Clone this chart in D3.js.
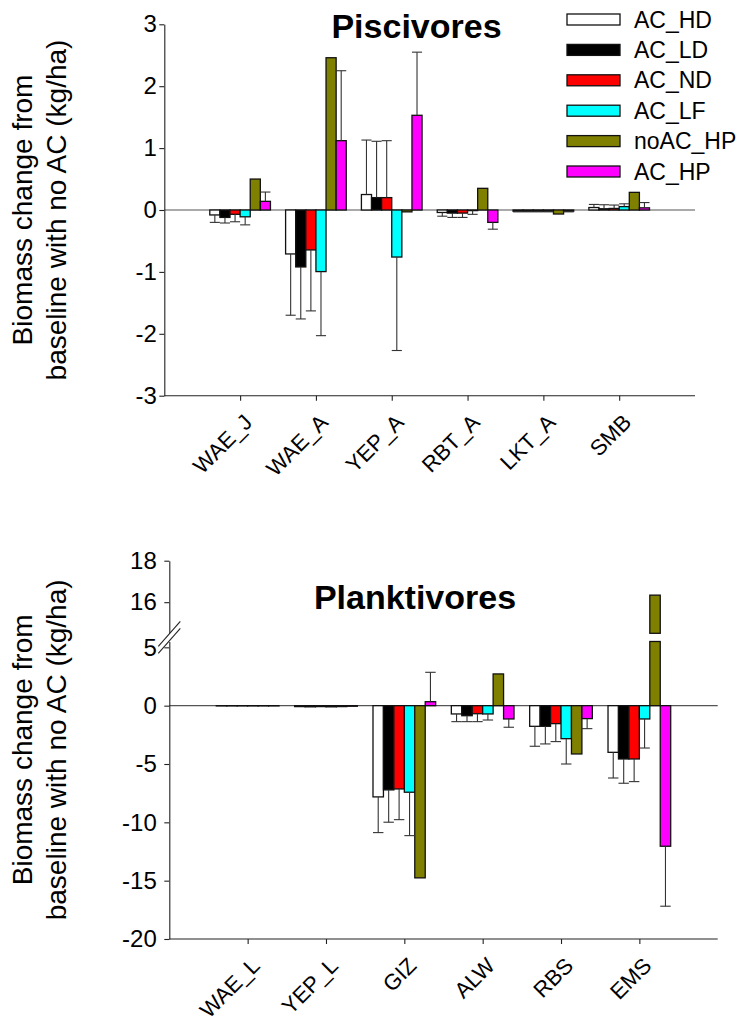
<!DOCTYPE html>
<html>
<head>
<meta charset="utf-8">
<script src="https://cdn.jsdelivr.net/npm/d3@7"></script>
<style>
  body { margin: 0; background: #fff; }
  svg text { font-family: Arial, "Liberation Sans", Helvetica, sans-serif; fill: #000; }
</style>
</head>
<body>
<svg id="chart" width="741" height="1024"></svg>
<script>
// Scenario series shared by both panels
const seriesNames  = ["AC_HD", "AC_LD", "AC_ND", "AC_LF", "noAC_HP", "AC_HP"];
const seriesColors = ["#ffffff", "#000000", "#ff0000", "#00ffff", "#808000", "#ff00ff"];

// Piscivores: biomass change (kg/ha), one row per series, one column per group
const pisciCategories = ["WAE_J", "WAE_A", "YEP_A", "RBT_A", "LKT_A", "SMB"];
const pisciValues = [
  [-0.08, -0.71,  0.25, -0.04, -0.02, 0.04 ],
  [-0.12, -0.92,  0.20, -0.05, -0.02, 0.02 ],
  [-0.07, -0.645, 0.20, -0.05, -0.02, 0.025],
  [-0.11, -0.995,-0.76, -0.01, -0.02, 0.055],
  [ 0.50,  2.46, -0.03,  0.35, -0.065,0.285],
  [ 0.14,  1.12,  1.53, -0.20, -0.02, 0.035]
];
const pisciErrors = [
  [0.12, 0.99,  0.88, 0.06, 0.01, 0.05 ],
  [0.09, 0.84,  0.91, 0.07, 0.01, 0.065],
  [0.12, 0.985, 0.92, 0.07, 0.01, 0.055],
  [0.13, 1.035, 1.51, 0.06, 0.01, 0.045],
  [null, null,  null, null, null, null ],
  [0.15, 1.13,  1.02, 0.11, 0.01, 0.085]
];
const pisciTicks = [-3, -2, -1, 0, 1, 2, 3];

// Planktivores: biomass change (kg/ha)
const plankCategories = ["WAE_L", "YEP_L", "GIZ", "ALW", "RBS", "EMS"];
const plankValues = [
  [-0.02, -0.08, -7.82, -0.71, -1.77, -4.00],
  [-0.02, -0.10, -7.22, -0.86, -1.77, -4.57],
  [-0.02, -0.08, -7.14, -0.69, -1.54, -4.57],
  [-0.02, -0.10, -7.42, -0.71, -2.83, -1.14],
  [-0.02, -0.08,-14.76,  2.72, -4.14, 16.34],
  [-0.02, -0.05,  0.34, -1.14, -1.11,-12.05]
];
const plankErrors = [
  [null, null, 3.06, 0.66, 1.71, 2.20],
  [null, null, 2.77, 0.51, 1.51, 2.08],
  [null, null, 2.63, 0.68, 1.54, 1.94],
  [null, null, 3.72, 0.52, 2.17, 2.49],
  [null, null, null, null, null, null],
  [null, null, 2.52, 0.71, 0.86, 5.14]
];
const plankLowerTicks = [-20, -15, -10, -5, 0, 5];
const plankUpperTicks = [16, 18];

const yTitleLines = ["Biomass change from", "baseline with no AC (kg/ha)"];

const svg = d3.select("#chart");
const AXIS = "#222";
const TICK_SIZE = 24;
const LEGEND_SIZE = 23;
const CAT_SIZE = 22;

function styleAxis(sel, size) {
  sel.attr("font-size", null).attr("font-family", null);
  sel.selectAll("path.domain").attr("stroke", AXIS).attr("stroke-width", 1.1);
  sel.selectAll(".tick line").attr("stroke", AXIS).attr("stroke-width", 1.1);
  sel.selectAll(".tick text").style("font-size", size + "px").attr("fill", "#000");
}

// One bar-chart panel. `segments` lists y scales (bottom to top) for broken axes.
function drawPanel(cfg) {
  const g = svg.append("g");
  const x = d3.scaleLinear().domain([-1, 6]).range([cfg.left, cfg.right]);
  const step = x(1) - x(0);
  const inner = d3.scaleBand().domain(d3.range(seriesNames.length))
    .range([-step * 0.4, step * 0.4]);
  const yBase = cfg.segments[0].scale;

  // zero reference line
  g.append("line")
    .attr("x1", cfg.left).attr("x2", cfg.right)
    .attr("y1", yBase(0)).attr("y2", yBase(0))
    .attr("stroke", "#555").attr("stroke-width", 1.2);

  // bars (a separate rect per axis segment the value reaches)
  const bars = [];
  cfg.values.forEach((row, s) => row.forEach((v, c) => bars.push({ s, c, v, e: cfg.errors[s][c] })));

  cfg.segments.forEach((seg, k) => {
    const y = seg.scale;
    const [lo, hi] = y.domain();
    const parts = bars.filter(d => k === 0 ? true : d.v > lo);
    const base = k === 0 ? 0 : lo;
    g.append("g").selectAll("rect").data(parts).join("rect")
      .attr("x", d => x(d.c) + inner(d.s))
      .attr("width", inner.bandwidth())
      .attr("y", d => Math.min(y(base), y(Math.min(d.v, hi))))
      .attr("height", d => Math.abs(y(base) - y(Math.min(d.v, hi))))
      .attr("fill", d => seriesColors[d.s])
      .attr("stroke", "#111").attr("stroke-width", 1.3);
  });

  // one-sided error bars, pointing away from zero
  const withErr = bars.filter(d => d.e != null);
  const eg = g.append("g").attr("stroke", "#333").attr("stroke-width", 1.1);
  const cx = d => x(d.c) + inner(d.s) + inner.bandwidth() / 2;
  const tip = d => yBase(d.v + Math.sign(d.v || 1) * d.e);
  eg.selectAll("line.stem").data(withErr).join("line").attr("class", "stem")
    .attr("x1", cx).attr("x2", cx)
    .attr("y1", d => yBase(d.v)).attr("y2", tip);
  eg.selectAll("line.cap").data(withErr).join("line").attr("class", "cap")
    .attr("x1", d => cx(d) - inner.bandwidth() / 2)
    .attr("x2", d => cx(d) + inner.bandwidth() / 2)
    .attr("y1", tip).attr("y2", tip);

  // left axis, one piece per segment
  cfg.segments.forEach(seg => {
    const ax = g.append("g").attr("transform", `translate(${cfg.left},0)`)
      .call(d3.axisLeft(seg.scale).tickValues(seg.ticks).tickFormat(d => String(d))
        .tickSize(5).tickSizeOuter(0).tickPadding(cfg.tickPad));
    styleAxis(ax, TICK_SIZE);
  });

  // bottom axis with rotated category labels
  const bottomY = yBase.range()[0];
  const bx = g.append("g").attr("transform", `translate(0,${bottomY})`)
    .call(d3.axisBottom(x).tickValues(d3.range(cfg.categories.length))
      .tickFormat(i => cfg.categories[i]).tickSize(5).tickSizeOuter(0));
  bx.select("path.domain").attr("d", `M${cfg.left},0H${cfg.right}`);
  styleAxis(bx, CAT_SIZE);
  bx.selectAll(".tick text")
    .attr("text-anchor", "end")
    .attr("dy", null).attr("y", null)
    .attr("transform", "translate(13,28) rotate(-45)");

  // axis title
  const midY = (yBase.range()[0] + cfg.segments[cfg.segments.length - 1].scale.range()[1]) / 2;
  const t = g.append("text")
    .attr("transform", `translate(${cfg.titleX},${midY}) rotate(-90)`)
    .attr("text-anchor", "middle").style("font-size", "28px");
  yTitleLines.forEach((line, i) => {
    t.append("tspan").attr("x", 0).attr("dy", i === 0 ? 0 : "1.22em").text(line);
  });

  // panel heading
  g.append("text").attr("x", cfg.heading.x).attr("y", cfg.heading.y)
    .attr("text-anchor", "middle").style("font-size", "34px").style("font-weight", "bold")
    .text(cfg.heading.text);

  return g;
}

// Piscivores panel
const yPisci = d3.scaleLinear().domain([-3, 3]).range([395.7, 24.3]);
drawPanel({
  categories: pisciCategories, values: pisciValues, errors: pisciErrors,
  left: 164.3, right: 695, tickPad: 2.5, titleX: 32,
  segments: [{ scale: yPisci, ticks: pisciTicks }],
  heading: { text: "Piscivores", x: 416.5, y: 37.5 }
});

// legend
const legend = svg.append("g").attr("transform", "translate(567,19.5)");
seriesNames.forEach((name, i) => {
  const row = legend.append("g").attr("transform", `translate(0,${i * 30.4})`);
  row.append("rect").attr("x", 0).attr("y", -5.5).attr("width", 53).attr("height", 11)
    .attr("fill", seriesColors[i]).attr("stroke", "#111").attr("stroke-width", 1.3);
  row.append("text").attr("x", 67).attr("y", 8).style("font-size", LEGEND_SIZE + "px").text(name);
});

// Planktivores panel with a broken y axis
const yPlankLow = d3.scaleLinear().domain([-20, 5.5]).range([939, 641.5]).clamp(true);
const yPlankHigh = d3.scaleLinear().domain([14.5, 18]).range([633.3, 560.7]);
drawPanel({
  categories: plankCategories, values: plankValues, errors: plankErrors,
  left: 169.3, right: 717.7, tickPad: 7.5, titleX: 32,
  segments: [
    { scale: yPlankLow, ticks: plankLowerTicks },
    { scale: yPlankHigh, ticks: plankUpperTicks }
  ],
  heading: { text: "Planktivores", x: 415, y: 608.5 }
});

// axis break marks
const brk = svg.append("g").attr("transform", "translate(169.3,637.4)");
brk.append("path").attr("d", "M-11,16 L-11,9 L11,-16 L11,-9 Z").attr("fill", "#fff");
[[-11, 16, 11, -9], [-11, 9, 11, -16]].forEach(([a, b, c, d]) => {
  brk.append("line").attr("x1", a).attr("y1", b).attr("x2", c).attr("y2", d)
    .attr("stroke", AXIS).attr("stroke-width", 1.1);
});
</script>
</body>
</html>
